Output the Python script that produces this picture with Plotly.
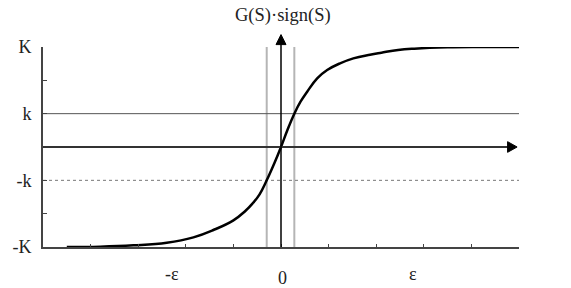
import plotly.graph_objects as go

# Curve G(S)*sign(S) (y in units where K = 3, k = 1)
curve_x = [-4.5, -3.8, -3.1, -2.4, -1.84, -1.42, -1.0, -0.75, -0.6, -0.45, -0.3, -0.14, 0.0,
           0.135, 0.28, 0.41, 0.55, 0.76, 0.97, 1.24, 1.52, 1.87, 2.11, 2.46, 2.8, 3.5, 4.2, 5.0]
curve_y = [-3.0, -2.99, -2.95, -2.87, -2.71, -2.49, -2.20, -1.92, -1.70, -1.42, -1.0, -0.49, 0.0,
           0.51, 1.0, 1.36, 1.66, 2.06, 2.31, 2.51, 2.66, 2.77, 2.83, 2.91, 2.95, 2.99, 3.0, 3.0]

y_tickvals = [-3, -2, -1, 0, 1, 2, 3]
y_ticktext = ["-K", "", "-k", "", "k", "", "K"]
x_tickvals = [-5, -4, -3, -2, -1, 0, 1, 2, 3, 4, 5]

K_level = 3
k_level = 1
eps_band = [-0.3, 0.28]

x_labels = ["-ε", "0", "ε"]
x_label_pos = [-2.28, 0.03, 2.77]
x_label_ypix = [274, 278, 274]

FONT = "Liberation Serif"

fig = go.Figure()
fig.add_trace(go.Scatter(x=curve_x, y=curve_y, mode="lines",
                         line=dict(color="black", width=2.5, shape="spline", smoothing=1.2),
                         hoverinfo="skip", showlegend=False))

shapes = []
for xv in eps_band:
    shapes.append(dict(type="line", xref="x", yref="y", x0=xv, x1=xv, y0=-K_level, y1=K_level,
                       line=dict(color="#b5b5b5", width=2), layer="below"))
shapes.append(dict(type="line", xref="x", yref="y", x0=-5, x1=5, y0=k_level, y1=k_level,
                   line=dict(color="#555555", width=1), layer="below"))
shapes.append(dict(type="line", xref="x", yref="y", x0=-5, x1=5, y0=-k_level, y1=-k_level,
                   line=dict(color="#777777", width=1, dash="dot"), layer="below"))
shapes.append(dict(type="line", xref="x", yref="y", x0=-5, x1=4.78, y0=0, y1=0,
                   line=dict(color="#333333", width=2)))
shapes.append(dict(type="path", xref="x", yref="y",
                   path="M 4.76,0.16 L 4.96,0 L 4.76,-0.16 Z",
                   fillcolor="black", line=dict(color="black", width=1)))
shapes.append(dict(type="line", xref="x", yref="paper", x0=0, x1=0, y0=0, y1=1.02,
                   line=dict(color="black", width=1.5)))
shapes.append(dict(type="path", xref="x", yref="paper",
                   path="M -0.105,1.012 L 0,1.062 L 0.105,1.012 Z",
                   fillcolor="black", line=dict(color="black", width=1)))

annotations = []
for txt, xp, yp in zip(x_labels, x_label_pos, x_label_ypix):
    annotations.append(dict(x=xp, xref="x", y=(247 - yp) / 200, yref="paper", text=txt,
                            showarrow=False, font=dict(family=FONT, size=18, color="#222"),
                            xanchor="center", yanchor="middle"))
annotations.append(dict(x=0.05, xref="x", y=(247 - 15) / 200, yref="paper", text="G(S)·sign(S)",
                        showarrow=False, font=dict(family=FONT, size=18.5, color="#222"),
                        xanchor="center", yanchor="middle"))
annotations.append(dict(x=5.77, xref="x", y=-0.18, yref="y", text="S(·)",
                        showarrow=False, font=dict(family=FONT, size=18, color="#222"),
                        xanchor="center", yanchor="middle"))

fig.update_layout(
    width=571, height=288,
    margin=dict(l=38, r=52, t=47, b=41, pad=0),
    paper_bgcolor="white", plot_bgcolor="white",
    shapes=shapes, annotations=annotations,
    xaxis=dict(range=[-5, 5], tickvals=x_tickvals, ticks="inside", ticklen=3, tickwidth=1,
               tickcolor="#444", showticklabels=False, showgrid=False, zeroline=False,
               showline=True, linecolor="#444", linewidth=2, fixedrange=True),
    yaxis=dict(range=[-3, 3], tickvals=y_tickvals, ticktext=y_ticktext, ticks="inside",
               ticklen=4, tickwidth=1, tickcolor="#444", showgrid=False, zeroline=False,
               showline=True, linecolor="#444", linewidth=2, ticklabelstandoff=6,
               tickfont=dict(family=FONT, size=18, color="#222"), fixedrange=True),
    showlegend=False,
)

fig.write_html("out.html", config={"displayModeBar": False},
               post_script="document.body.style.margin='0';document.body.style.overflow='hidden';")
